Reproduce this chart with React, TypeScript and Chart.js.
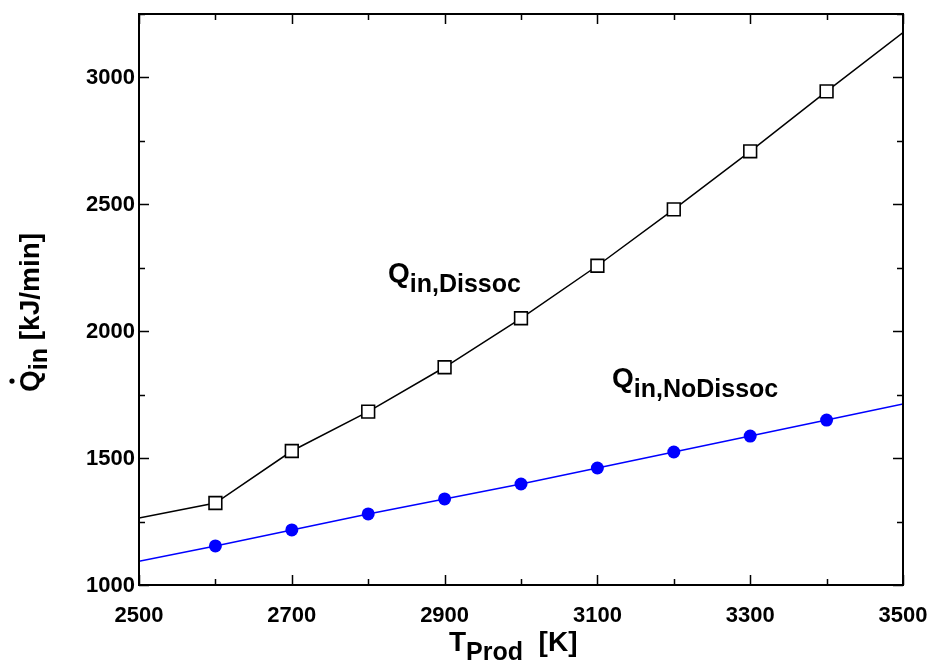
import React, { useEffect, useRef } from 'react';
import { Chart, registerables } from 'chart.js';

Chart.register(...registerables);

// ---- Data ----
const temps = [2500, 2600, 2700, 2800, 2900, 3000, 3100, 3200, 3300, 3400, 3500];
const qDissoc = [1264, 1323, 1528, 1683, 1858, 2051, 2258, 2480, 2709, 2945, 3177];
const qNoDissoc = [1094, 1154, 1217, 1280, 1339, 1398, 1461, 1524, 1587, 1650, 1713];
const xTickLabels = [2500, 2700, 2900, 3100, 3300, 3500];
const yTickLabels = [1000, 1500, 2000, 2500, 3000];
const xMin = 2500;
const xMax = 3500;
const yMin = 1000;
const yMax = 3250;
const xMinorStep = 100;
const yMinorStep = 250;

const FONT = '"Liberation Sans", Arial, Helvetica, sans-serif';

function drawSubText(
  ctx: CanvasRenderingContext2D,
  x: number,
  y: number,
  main: string,
  sub: string,
  rest: string,
  mainSize: number,
  subSize: number,
  subDrop: number
) {
  ctx.save();
  ctx.fillStyle = '#000';
  ctx.textBaseline = 'alphabetic';
  ctx.textAlign = 'left';
  ctx.font = `bold ${mainSize}px ${FONT}`;
  ctx.fillText(main, x, y);
  let cx = x + ctx.measureText(main).width;
  ctx.font = `bold ${subSize}px ${FONT}`;
  ctx.fillText(sub, cx, y + subDrop);
  cx += ctx.measureText(sub).width;
  if (rest) {
    ctx.font = `bold ${mainSize}px ${FONT}`;
    ctx.fillText(rest, cx, y);
  }
  ctx.restore();
}

const framePlugin = {
  id: 'framePlugin',
  afterDraw(chart: any) {
    const { ctx, chartArea } = chart;
    const xs = chart.scales.x;
    const ys = chart.scales.y;
    const { left, right, top, bottom } = chartArea;
    ctx.save();
    ctx.strokeStyle = '#000';
    ctx.lineWidth = 1.5;
    for (let v = xMin; v <= xMax; v += xMinorStep) {
      const px = Math.round(xs.getPixelForValue(v)) + 0.5;
      const len = xTickLabels.includes(v) ? 10 : 6;
      ctx.beginPath();
      ctx.moveTo(px, bottom);
      ctx.lineTo(px, bottom - len);
      ctx.moveTo(px, top);
      ctx.lineTo(px, top + len);
      ctx.stroke();
    }
    for (let v = yMin; v <= yMax; v += yMinorStep) {
      const py = Math.round(ys.getPixelForValue(v)) + 0.5;
      const len = yTickLabels.includes(v) ? 10 : 6;
      ctx.beginPath();
      ctx.moveTo(left, py);
      ctx.lineTo(left + len, py);
      ctx.moveTo(right, py);
      ctx.lineTo(right - len, py);
      ctx.stroke();
    }
    ctx.lineWidth = 2;
    ctx.strokeRect(left, top, right - left, bottom - top);

    // tick labels
    ctx.fillStyle = '#000';
    ctx.font = `bold 22px ${FONT}`;
    ctx.textBaseline = 'alphabetic';
    ctx.textAlign = 'center';
    xTickLabels.forEach((v) => {
      ctx.fillText(String(v), xs.getPixelForValue(v), bottom + 37);
    });
    ctx.textAlign = 'right';
    yTickLabels.forEach((v) => {
      ctx.fillText(String(v), left - 4, ys.getPixelForValue(v) + 7);
    });
    ctx.restore();

    // Series labels
    drawSubText(ctx, 388, 282, 'Q', 'in,Dissoc', '', 28, 25, 10);
    drawSubText(ctx, 612, 387, 'Q', 'in,NoDissoc', '', 28, 25, 10);

    // X axis title
    drawSubText(ctx, 449, 651, 'T', 'Prod', '  [K]', 28, 25, 9);

    // Y axis title (rotated)
    ctx.save();
    ctx.translate(39, 392);
    ctx.rotate(-Math.PI / 2);
    drawSubText(ctx, 0, 0, 'Q', 'in', ' [kJ/min]', 28, 25, 8);
    ctx.font = `bold 28px ${FONT}`;
    const qw = ctx.measureText('Q').width;
    ctx.fillStyle = '#000';
    ctx.beginPath();
    ctx.arc(qw / 2, -27, 2.6, 0, Math.PI * 2);
    ctx.fill();
    ctx.restore();
  },
};

export default function App() {
  const canvasRef = useRef<HTMLCanvasElement | null>(null);

  useEffect(() => {
    document.body.style.margin = '0';
    const canvas = canvasRef.current;
    if (!canvas) return;
    const chart = new Chart(canvas, {
      type: 'line',
      data: {
        datasets: [
          {
            label: 'Qin,Dissoc',
            data: temps.map((t, i) => ({ x: t, y: qDissoc[i] })),
            borderColor: '#000',
            borderWidth: 1.5,
            backgroundColor: '#fff',
            pointStyle: 'rect',
            pointRadius: (c: any) => (c.dataIndex === 0 || c.dataIndex === temps.length - 1 ? 0 : 9),
            pointBorderColor: '#000',
            pointBackgroundColor: '#fff',
            pointBorderWidth: 1.6,
            tension: 0,
          },
          {
            label: 'Qin,NoDissoc',
            data: temps.map((t, i) => ({ x: t, y: qNoDissoc[i] })),
            borderColor: '#0000ff',
            borderWidth: 1.5,
            backgroundColor: '#0000ff',
            pointStyle: 'circle',
            pointRadius: (c: any) => (c.dataIndex === 0 || c.dataIndex === temps.length - 1 ? 0 : 6.5),
            pointBorderColor: '#0000ff',
            pointBackgroundColor: '#0000ff',
            pointBorderWidth: 0,
            tension: 0,
          },
        ],
      },
      options: {
        animation: false,
        responsive: false,
        maintainAspectRatio: false,
        layout: { padding: { left: 0, top: 14, right: 27, bottom: 0 } },
        plugins: {
          legend: { display: false },
          tooltip: { enabled: false },
          title: { display: false },
        },
        scales: {
          x: {
            type: 'linear',
            min: xMin,
            max: xMax,
            grid: { display: false, drawTicks: false },
            border: { display: false },
            ticks: { display: false },
            afterFit: (s: any) => {
              s.height = 80;
            },
          },
          y: {
            type: 'linear',
            min: yMin,
            max: yMax,
            grid: { display: false, drawTicks: false },
            border: { display: false },
            ticks: { display: false },
            afterFit: (s: any) => {
              s.width = 139;
            },
          },
        },
      },
      plugins: [framePlugin],
    });
    return () => chart.destroy();
  }, []);

  return (
    <div style={{ position: 'relative', width: 930, height: 665 }}>
      <canvas ref={canvasRef} width={930} height={665} style={{ display: 'block' }} />
    </div>
  );
}
